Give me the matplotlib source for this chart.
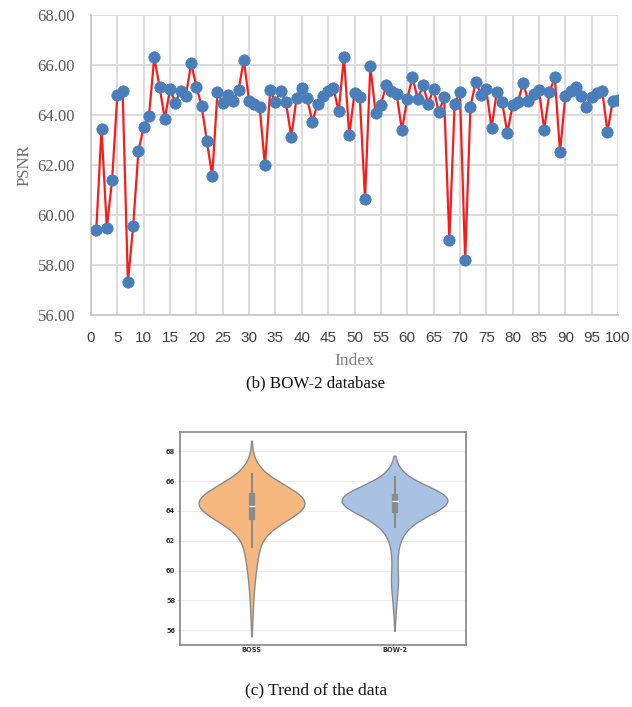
import matplotlib
matplotlib.use("Agg")
import matplotlib.pyplot as plt
import seaborn as sns
import numpy as np
import pandas as pd

# ---------------- data ----------------
index = list(range(1, 101))
bow2_psnr = [
    59.39, 63.45, 59.49, 61.39, 64.81, 64.96, 57.32, 59.55, 62.57, 63.51,
    63.96, 66.31, 65.13, 63.85, 65.03, 64.49, 64.97, 64.76, 66.07, 65.13,
    64.36, 62.95, 61.55, 64.93, 64.49, 64.79, 64.57, 65.00, 66.20, 64.56,
    64.43, 64.33, 61.99, 64.99, 64.52, 64.96, 64.51, 63.13, 64.68, 65.07,
    64.67, 63.73, 64.45, 64.76, 64.95, 65.08, 64.15, 66.33, 63.19, 64.87,
    64.71, 60.64, 65.96, 64.09, 64.40, 65.19, 64.97, 64.83, 63.39, 64.63,
    65.52, 64.64, 65.19, 64.45, 65.05, 64.11, 64.71, 58.99, 64.44, 64.92,
    58.19, 64.32, 65.33, 64.81, 65.04, 63.48, 64.92, 64.53, 63.28, 64.40,
    64.53, 65.27, 64.55, 64.83, 65.00, 63.41, 64.91, 65.52, 62.51, 64.76,
    64.96, 65.13, 64.75, 64.31, 64.73, 64.88, 64.97, 63.32, 64.56, 64.60,
]
boss_psnr = [
    57.0, 58.4, 59.1, 59.7, 60.2, 60.5, 60.9, 61.2, 61.4, 61.6,
    61.8, 62.1, 62.4, 62.6, 62.8, 62.9, 63.0, 63.1, 63.2, 63.3,
    63.35, 63.4, 63.45, 63.5, 63.55, 63.6, 63.65, 63.7, 63.75, 63.8,
    63.85, 63.9, 63.92, 63.95, 64.0, 64.02, 64.05, 64.08, 64.1, 64.12,
    64.15, 64.17, 64.2, 64.22, 64.24, 64.26, 64.27, 64.28, 64.29, 64.3,
    64.35, 64.4, 64.45, 64.5, 64.52, 64.55, 64.58, 64.6, 64.62, 64.64,
    64.66, 64.68, 64.7, 64.72, 64.74, 64.76, 64.78, 64.8, 64.83, 64.86,
    64.89, 64.92, 64.95, 64.97, 65.0, 65.06, 65.1, 65.13, 65.16, 65.2,
    65.24, 65.28, 65.32, 65.36, 65.4, 65.45, 65.5, 65.55, 65.6, 65.65,
    65.7, 65.78, 65.85, 65.92, 66.0, 66.1, 66.2, 66.35, 66.5, 67.3,
]
groups = ["BOSS", "BOW-2"]
y_ticks_top = [56, 58, 60, 62, 64, 66, 68]
x_ticks_top = list(range(0, 101, 5))
y_ticks_violin = [56, 58, 60, 62, 64, 66, 68]

# ---------------- figure ----------------
fig = plt.figure(figsize=(6.32, 7.07), dpi=100)

# top line chart
ax = fig.add_axes([91/632, 1-315/707, (618-91)/632, 300/707])
ax.plot(index, bow2_psnr, color="#ff1a1a", lw=1.6, zorder=3,
        marker="o", markersize=8.2, markerfacecolor="#4a7ebb",
        markeredgecolor="#4a7ebb", markeredgewidth=0.5)
ax.set_xlim(0, 100)
ax.set_ylim(56, 68)
ax.set_xticks(x_ticks_top)
ax.set_yticks(y_ticks_top)
ax.set_yticklabels([f"{v:.2f}" for v in y_ticks_top],
                   fontfamily="Liberation Serif", fontsize=12, color="#595959")
ax.set_xticklabels([str(v) for v in x_ticks_top],
                   fontfamily="Liberation Sans", fontsize=11, color="#404040")
ax.tick_params(axis="y", length=0, pad=11.5)
ax.tick_params(axis="x", length=0, pad=11.5)
ax.grid(True, color="#d9d9d9", lw=1.3, zorder=0)
ax.set_axisbelow(True)
for s in ["top", "right"]:
    ax.spines[s].set_visible(False)
for s in ["left", "bottom"]:
    ax.spines[s].set_color("#c8c8c8")
    ax.spines[s].set_linewidth(1.3)
ax.set_ylabel("PSNR", fontfamily="Liberation Serif", fontsize=12, color="#6e6e6e", labelpad=3.5)
ax.set_xlabel("Index", fontfamily="Liberation Serif", fontsize=12.5, color="#7f7f7f", labelpad=6)

fig.text(0.5, 1-383/707, "(b) BOW-2 database", ha="center", va="center",
         fontfamily="Liberation Serif", fontsize=12.2, color="#111111")

# violin plot
vax = fig.add_axes([180/632, 1-645/707, (466-180)/632, (645-432)/707])
df = pd.DataFrame({
    "group": [groups[0]] * len(boss_psnr) + [groups[1]] * len(bow2_psnr),
    "psnr": boss_psnr + bow2_psnr,
})
sns.violinplot(data=df, x="group", y="psnr", hue="group", order=groups,
               palette=["#f6b87e", "#a9c2e3"], ax=vax, inner="box",
               density_norm="width", width=0.74, linewidth=1.0,
               bw_adjust=1.3, cut=1.6,
               linecolor="#8a8a8a", legend=False, saturation=1)
vax.set_xlim(-0.5, 1.5)
vax.set_ylim(55.0, 69.3)
vax.set_yticks(y_ticks_violin)
vax.set_yticklabels([str(v) for v in y_ticks_violin], fontsize=4.8,
                    color="#333333", fontweight="bold")
vax.set_xticks([0, 1])
vax.set_xticklabels(groups, fontsize=4.8, color="#333333", fontweight="bold")
vax.tick_params(axis="y", length=1.5, width=0.5, pad=2, color="#999999")
vax.tick_params(axis="x", length=0, pad=1.5)
vax.set_xlabel("")
vax.set_ylabel("")
vax.grid(True, axis="y", color="#ececec", lw=0.8)
vax.set_axisbelow(True)
for s in vax.spines.values():
    s.set_color("#8c8c8c")
    s.set_linewidth(1.3)

fig.text(0.5, 1-690/707, "(c) Trend of the data", ha="center", va="center",
         fontfamily="Liberation Serif", fontsize=12.5, color="#111111")

fig.savefig("out.png", dpi=100)
